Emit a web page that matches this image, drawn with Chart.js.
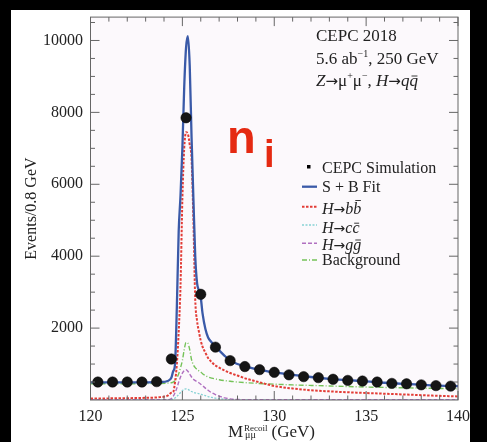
<!DOCTYPE html>
<html>
<head>
<meta charset="utf-8">
<script src="https://cdn.jsdelivr.net/npm/chart.js@4.4.0/dist/chart.umd.min.js"></script>
<style>
  html, body { margin: 0; padding: 0; background: #000; overflow: hidden; }
  #paper { position: absolute; left: 11px; top: 10px; width: 459px; height: 432px; background: #fff; }
  #wrap { position: absolute; left: 0; top: 0; width: 487px; height: 442px; }
</style>
</head>
<body>
<div id="paper"></div>
<div id="wrap"><canvas id="recoilChart" width="487" height="442"></canvas></div>
<script>
// recoil mass grid (GeV) used by the fitted curves
const massGrid = [120, 121, 122, 123, 123.8, 124.2, 124.4, 124.5, 124.6, 124.7, 124.8, 124.9,
  125.0, 125.1, 125.2, 125.3, 125.4, 125.5, 125.6, 125.7, 125.8, 125.9, 126.0, 126.1, 126.25,
  126.4, 126.6, 126.8, 127.0, 127.3, 127.6, 128.0, 128.5, 129, 130, 131, 132, 133, 134, 135,
  136, 137, 138, 139, 140];

const fitValues = [490, 490, 490, 492, 500, 530, 620, 800, 1000, 2600, 4700, 5700,
  7000, 8700, 9800, 10120, 9300, 7300, 5600, 4000, 3250, 3050, 2850, 2400, 1980,
  1740, 1600, 1490, 1380, 1230, 1100, 1000, 920, 860, 770, 700, 640, 590, 550, 520,
  480, 450, 425, 400, 385];

const bbValues = [40, 45, 50, 60, 80, 120, 200, 220, 500, 1000, 1900, 3200,
  5600, 7000, 7450, 7400, 7100, 6700, 5000, 2800, 2200, 1900, 1650, 1480, 1320,
  1170, 1050, 960, 900, 820, 750, 680, 590, 520, 390, 320, 270, 240, 215, 195,
  175, 155, 135, 115, 100];

const ccValues = [2, 2, 2, 2, 2, 2, 10, 25, 55, 100, 150, 210,
  260, 300, 310, 295, 265, 235, 210, 195, 185, 175, 160, 145, 120,
  95, 70, 50, 35, 20, 10, 5, 3, 3, 3, 3, 3, 3, 3, 3,
  3, 3, 3, 3, 3];

const ggValues = [5, 5, 5, 5, 5, 5, 40, 100, 200, 330, 500, 640,
  750, 820, 840, 800, 720, 640, 580, 540, 510, 480, 440, 400, 330,
  270, 200, 150, 110, 60, 30, 15, 10, 10, 10, 10, 10, 10, 10, 10,
  10, 10, 10, 10, 10];

const bkgValues = [450, 450, 450, 455, 460, 470, 480, 500, 540, 620, 730, 900,
  1100, 1400, 1600, 1580, 1400, 1120, 980, 900, 850, 810, 780, 730, 680,
  640, 610, 585, 565, 540, 520, 500, 480, 465, 440, 420, 405, 390, 375, 360,
  350, 340, 330, 320, 310];

// simulated events per 0.8 GeV bin
const binCentres = [120.4, 121.2, 122.0, 122.8, 123.6, 124.4, 125.2, 126.0, 126.8, 127.6,
  128.4, 129.2, 130.0, 130.8, 131.6, 132.4, 133.2, 134.0, 134.8, 135.6, 136.4, 137.2,
  138.0, 138.8, 139.6];
const simEvents = [500, 500, 500, 500, 510, 1140, 7850, 2940, 1470, 1095,
  930, 845, 770, 700, 650, 622, 577, 545, 527, 500, 462, 450,
  422, 400, 385];

const xTickLabels = [120, 125, 130, 135, 140];
const yTickLabels = [2000, 4000, 6000, 8000, 10000];

const SERIF = '"Liberation Serif", "DejaVu Serif", serif';
const SANS = '"Liberation Sans", Arial, sans-serif';
const ARROW = '"DejaVu Sans", sans-serif';

const styles = {
  fit: { color: '#3a5aa8', width: 2.3, dash: [] },
  bb: { color: '#e23c36', width: 2, dash: [2.5, 1.5] },
  cc: { color: '#86d2d4', width: 1.3, dash: [2, 1.5] },
  gg: { color: '#b070c0', width: 1.4, dash: [4, 2] },
  bkg: { color: '#74c258', width: 1.4, dash: [5, 2, 1, 2] }
};

function curve(values) {
  return massGrid.map((m, i) => ({ x: m, y: values[i] }));
}

function lineSet(label, values, st) {
  return {
    label: label,
    data: curve(values),
    showLine: true,
    borderColor: st.color,
    borderWidth: st.width,
    borderDash: st.dash,
    pointRadius: 0,
    cubicInterpolationMode: 'monotone',
    fill: false
  };
}

// draws a row of text pieces, each with its own font / offset
function richText(ctx, x, y, parts) {
  parts.forEach(p => {
    ctx.font = p.font;
    const w = ctx.measureText(p.t).width;
    ctx.fillText(p.t, x, y + (p.dy || 0));
    if (p.bar) {
      ctx.save();
      ctx.lineWidth = 0.9;
      ctx.beginPath();
      ctx.moveTo(x + w * 0.25, y - p.bar);
      ctx.lineTo(x + w * 0.95, y - p.bar);
      ctx.stroke();
      ctx.restore();
    }
    x += w;
  });
  return x;
}

const decorations = {
  id: 'decorations',
  beforeDatasetsDraw(chart) {
    const { ctx, chartArea: a } = chart;
    ctx.save();
    ctx.fillStyle = '#fcf9fc';
    ctx.fillRect(a.left, a.top, a.right - a.left, a.bottom - a.top);
    ctx.restore();
  },
  afterDraw(chart) {
    const { ctx, chartArea: a } = chart;
    const xs = chart.scales.x, ys = chart.scales.y;
    ctx.save();

    // frame and inward ticks
    ctx.strokeStyle = '#666';
    ctx.lineWidth = 1;
    ctx.strokeRect(a.left, a.top, a.right - a.left, a.bottom - a.top);
    ctx.beginPath();
    for (let v = 120; v <= 140; v += 1) {
      const px = xs.getPixelForValue(v);
      const len = v % 5 === 0 ? 9 : 4.5;
      ctx.moveTo(px, a.bottom); ctx.lineTo(px, a.bottom - len);
      ctx.moveTo(px, a.top); ctx.lineTo(px, a.top + len);
    }
    for (let v = 500; v <= ys.max; v += 500) {
      const py = ys.getPixelForValue(v);
      const len = v % 2000 === 0 ? 9 : 4.5;
      ctx.moveTo(a.left, py); ctx.lineTo(a.left + len, py);
      ctx.moveTo(a.right, py); ctx.lineTo(a.right - len, py);
    }
    ctx.stroke();

    ctx.fillStyle = '#222';
    ctx.strokeStyle = '#222';
    ctx.textBaseline = 'alphabetic';
    ctx.textAlign = 'left';

    // header text
    const f17 = '17px ' + SERIF, i17 = 'italic 17px ' + SERIF, s10 = '10px ' + SERIF;
    const a17 = '15px ' + ARROW, a16 = '14px ' + ARROW;
    richText(ctx, 316, 41, [{ t: 'CEPC 2018', font: f17 }]);
    richText(ctx, 316, 64, [
      { t: '5.6 ab', font: f17 }, { t: '\u22121', font: s10, dy: -7 },
      { t: ', 250 GeV', font: f17 }]);
    richText(ctx, 316, 86, [
      { t: 'Z', font: i17 }, { t: '\u2192', font: a17 }, { t: '\u03bc', font: f17 },
      { t: '+', font: s10, dy: -7 }, { t: '\u03bc', font: f17 }, { t: '\u2212', font: s10, dy: -7 },
      { t: ', ', font: f17 }, { t: 'H', font: i17 }, { t: '\u2192', font: a17 },
      { t: 'q', font: i17 }, { t: 'q', font: i17, bar: 10 }]);

    // legend
    const f16 = '16px ' + SERIF, i16 = 'italic 16px ' + SERIF;
    const lx0 = 302, lx1 = 317, tx = 322;
    ctx.fillStyle = '#000';
    ctx.fillRect(307, 165, 3.5, 3.5);
    ctx.fillStyle = '#222';
    richText(ctx, tx, 173, [{ t: 'CEPC Simulation', font: f16 }]);
    const rows = [
      { st: styles.fit, ly: 186.7, by: 191.7, parts: [{ t: 'S + B Fit', font: f16 }] },
      { st: styles.bb, ly: 206.7, by: 214, parts: [{ t: 'H', font: i16 }, { t: '\u2192', font: a16 },
        { t: 'b', font: i16 }, { t: 'b', font: i16, bar: 13.5 }] },
      { st: styles.cc, ly: 225, by: 232.7, parts: [{ t: 'H', font: i16 }, { t: '\u2192', font: a16 },
        { t: 'c', font: i16 }, { t: 'c', font: i16, bar: 9.5 }] },
      { st: styles.gg, ly: 243.3, by: 249.5, parts: [{ t: 'H', font: i16 }, { t: '\u2192', font: a16 },
        { t: 'g', font: i16 }, { t: 'g', font: i16, bar: 9.5 }] },
      { st: styles.bkg, ly: 260, by: 265, parts: [{ t: 'Background', font: f16 }] }
    ];
    rows.forEach(r => {
      ctx.save();
      ctx.strokeStyle = r.st.color;
      ctx.lineWidth = r.st.width;
      ctx.setLineDash(r.st.dash);
      ctx.beginPath();
      ctx.moveTo(lx0, r.ly); ctx.lineTo(lx1, r.ly);
      ctx.stroke();
      ctx.restore();
      richText(ctx, tx, r.by, r.parts);
    });

    // x axis title
    const f17b = '17px ' + SERIF, s9 = '9px ' + SERIF, s10b = '10px ' + SERIF;
    let x = richText(ctx, 228, 437, [{ t: 'M', font: f17b }]);
    ctx.font = s9;
    const wSup = ctx.measureText('Recoil').width;
    richText(ctx, x + 1, 431, [{ t: 'Recoil', font: s9 }]);
    richText(ctx, x + 2, 438, [{ t: '\u03bc\u03bc', font: s10b }]);
    richText(ctx, x + wSup + 5, 437, [{ t: '(GeV)', font: f17b }]);

    // n_i mark
    ctx.fillStyle = '#e52a12';
    ctx.font = 'bold 47px ' + SANS;
    ctx.fillText('n', 227, 152.5);
    ctx.font = 'bold 38px ' + SANS;
    ctx.fillText('i', 264, 166.5);

    ctx.restore();
  }
};

new Chart(document.getElementById('recoilChart'), {
  type: 'scatter',
  data: {
    datasets: [
      {
        label: 'CEPC Simulation',
        data: binCentres.map((m, i) => ({ x: m, y: simEvents[i] })),
        pointRadius: 5.2,
        pointStyle: 'circle',
        backgroundColor: '#151515',
        borderColor: '#000',
        borderWidth: 0.5,
        showLine: false
      },
      lineSet('S + B Fit', fitValues, styles.fit),
      lineSet('H\u2192bb', bbValues, styles.bb),
      lineSet('Background', bkgValues, styles.bkg),
      lineSet('H\u2192gg', ggValues, styles.gg),
      lineSet('H\u2192cc', ccValues, styles.cc)
    ]
  },
  options: {
    responsive: false,
    animation: false,
    layout: { padding: { left: 11, top: 14.5, right: 29, bottom: 0 } },
    plugins: { legend: { display: false }, tooltip: { enabled: false } },
    scales: {
      x: {
        type: 'linear',
        min: 120,
        max: 140,
        grid: { display: false, drawTicks: false },
        border: { display: false },
        afterBuildTicks: s => { s.ticks = xTickLabels.map(v => ({ value: v })); },
        afterFit: s => { s.height = 42; },
        ticks: {
          padding: 7,
          color: '#222',
          maxRotation: 0,
          callback: v => String(v),
          font: { family: SERIF, size: 16 }
        }
      },
      y: {
        type: 'linear',
        min: 0,
        max: 10650,
        grid: { display: false, drawTicks: false },
        border: { display: false },
        afterBuildTicks: s => { s.ticks = yTickLabels.map(v => ({ value: v })); },
        afterFit: s => { s.width = 79.5; },
        ticks: {
          padding: 7.5,
          color: '#222',
          callback: v => String(v),
          font: { family: SERIF, size: 16 }
        },
        title: {
          display: true,
          text: 'Events/0.8 GeV',
          color: '#222',
          padding: { top: 11.4, bottom: 0 },
          font: { family: SERIF, size: 16 }
        }
      }
    }
  },
  plugins: [decorations]
});
</script>
</body>
</html>
